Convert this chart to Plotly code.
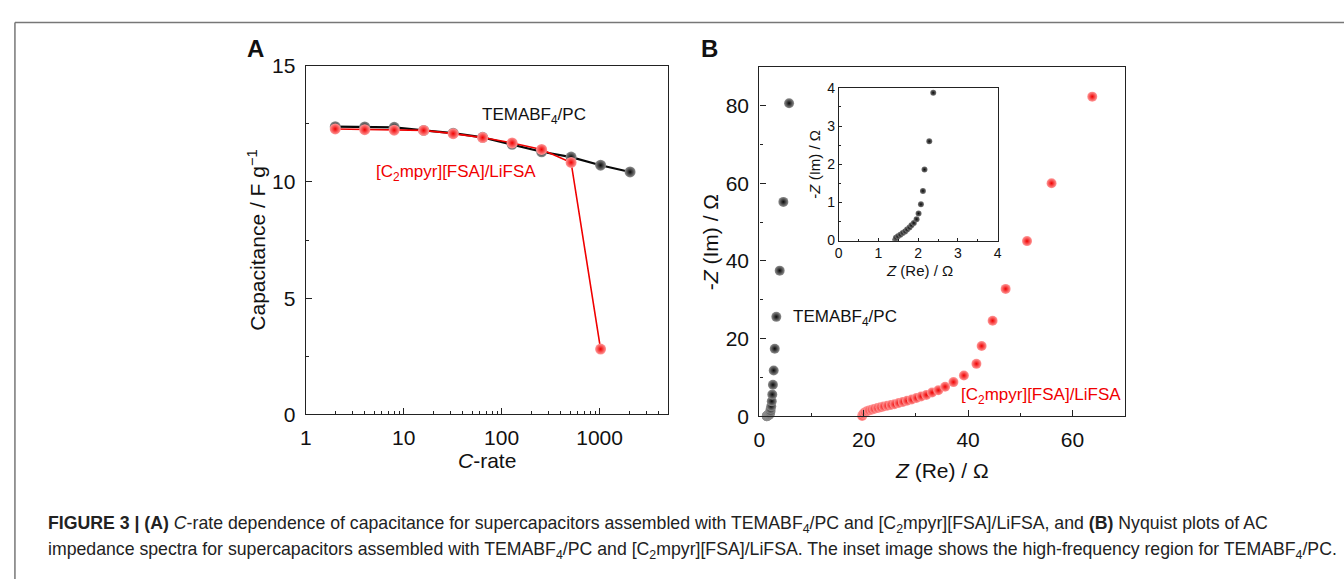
import plotly.graph_objects as go

# ---------------- data ----------------
c_rate = [2, 4, 8, 16, 32, 64, 128, 256, 512, 1024, 2048]
cap_temabf4 = [12.38, 12.37, 12.35, 12.22, 12.10, 11.92, 11.62, 11.30, 11.07, 10.72, 10.43]
c_rate_ionic = [2, 4, 8, 16, 32, 64, 128, 256, 512, 1024]
cap_ionic = [12.28, 12.25, 12.23, 12.22, 12.08, 11.91, 11.68, 11.40, 10.84, 2.81]

zre_temabf4 = [1.42, 1.43, 1.44, 1.49, 1.55, 1.61, 1.67, 1.72, 1.78, 1.83, 1.89, 1.96,
               2.01, 2.07, 2.12, 2.16, 2.28, 2.38, 2.48, 2.60, 2.75, 2.95, 3.25, 3.90, 4.60, 5.70]
zim_temabf4 = [0.00, 0.02, 0.07, 0.11, 0.15, 0.20, 0.24, 0.29, 0.34, 0.40, 0.46, 0.56,
               0.71, 0.95, 1.30, 1.86, 2.60, 3.87, 5.6, 8.1, 11.8, 17.4, 25.6, 37.5, 55.2, 80.6]

zre_ionic = [19.7, 19.9, 20.2, 20.6, 21.0, 21.5, 22.0, 22.6, 23.2, 23.8, 24.5, 25.2, 25.9,
             26.7, 27.5, 28.3, 29.2, 30.1, 31.0, 32.0, 33.1, 34.3, 35.6, 37.2, 39.2, 41.6,
             42.6, 44.7, 47.2, 51.3, 56.0, 63.8]
zim_ionic = [0.1, 0.6, 1.0, 1.3, 1.5, 1.7, 1.9, 2.1, 2.3, 2.5, 2.7, 2.9, 3.1,
             3.4, 3.7, 4.0, 4.3, 4.7, 5.1, 5.5, 6.1, 6.7, 7.6, 8.8, 10.5, 13.5,
             18.1, 24.6, 32.8, 45.1, 60.0, 82.3]

label_temabf4 = "TEMABF<sub>4</sub>/PC"
label_ionic = "[C<sub>2</sub>mpyr][FSA]/LiFSA"

# ---------------- layout helpers ----------------
W, H = 1344, 579
FONT = "Arial, Liberation Sans, sans-serif"
RED = "#f00000"
BLACK = "#080808"


def px(x):
    return x / W


def py(y):
    return 1 - y / H


def sphere(size, base, center):
    return dict(size=size, color=center, gradient=dict(type="radial", color=base),
                line=dict(width=0))


fig = go.Figure()

# Panel A
fig.add_trace(go.Scatter(x=c_rate, y=cap_temabf4, mode="lines+markers", xaxis="x", yaxis="y",
                         line=dict(color=BLACK, width=2.2),
                         marker=sphere(11, BLACK, "#909090"), cliponaxis=False, showlegend=False))
fig.add_trace(go.Scatter(x=c_rate_ionic, y=cap_ionic, mode="lines+markers", xaxis="x", yaxis="y",
                         line=dict(color=RED, width=1.6),
                         marker=sphere(11, RED, "#ff9a9a"), cliponaxis=False, showlegend=False))

# Panel B
fig.add_trace(go.Scatter(x=zre_temabf4, y=zim_temabf4, mode="markers", xaxis="x2", yaxis="y2",
                         marker=sphere(10, BLACK, "#909090"), cliponaxis=False, showlegend=False))
fig.add_trace(go.Scatter(x=zre_ionic, y=zim_ionic, mode="markers", xaxis="x2", yaxis="y2",
                         marker=sphere(10, RED, "#ff9a9a"), cliponaxis=False, showlegend=False))

# Inset
fig.add_trace(go.Scatter(x=zre_temabf4, y=zim_temabf4, mode="markers", xaxis="x3", yaxis="y3",
                         marker=sphere(6, BLACK, "#777777"), cliponaxis=True, showlegend=False))

axis_common = dict(showline=True, linecolor="#222", linewidth=1.3, mirror=True, ticks="inside",
                   tickcolor="#222", tickwidth=1.2, showgrid=False, zeroline=False,
                   tickfont=dict(family=FONT, size=21, color="#111"))

minor_log = [m * 10 ** e for e in range(0, 4) for m in range(2, 10)]

fig.update_layout(
    width=W, height=H, margin=dict(l=0, r=0, t=0, b=0),
    paper_bgcolor="white", plot_bgcolor="white",
    xaxis=dict(domain=[px(302), px(667)], anchor="y", type="log", range=[0, 3.699],
               tickvals=[1, 10, 100, 1000], ticktext=["1", "10", "100", "1000"], ticklen=6,
               ticklabelstandoff=4,
               minor=dict(tickvals=minor_log, ticks="inside", ticklen=3, tickcolor="#222"),
               **axis_common),
    yaxis=dict(domain=[py(419), py(56)], anchor="x", range=[0, 15], dtick=5, ticklen=6,
               ticklabelstandoff=5,
               minor=dict(dtick=2.5, ticks="inside", ticklen=3, tickcolor="#222"),
               **axis_common),
    xaxis2=dict(domain=[px(759), px(1127)], anchor="y2", range=[0, 70], dtick=20, ticklen=6,
                ticklabelstandoff=4,
                minor=dict(dtick=10, ticks="inside", ticklen=3, tickcolor="#222"),
                **axis_common),
    yaxis2=dict(domain=[py(421), py(57)], anchor="x2", range=[0, 90], dtick=20, ticklen=6,
                ticklabelstandoff=5,
                minor=dict(dtick=10, ticks="inside", ticklen=3, tickcolor="#222"),
                **axis_common),
    xaxis3=dict(domain=[px(839), px(999)], anchor="y3", range=[0, 4], dtick=1, ticklen=3,
                showline=True, linecolor="#222", linewidth=1, mirror=True, ticks="inside",
                tickcolor="#222", showgrid=False, zeroline=False,
                minor=dict(dtick=0.5, ticks="inside", ticklen=2, tickcolor="#222"),
                tickfont=dict(family=FONT, size=14, color="#111")),
    yaxis3=dict(domain=[py(238), py(79)], anchor="x3", range=[0, 4], dtick=1, ticklen=3,
                showline=True, linecolor="#222", linewidth=1, mirror=True, ticks="inside",
                tickcolor="#222", showgrid=False, zeroline=False,
                minor=dict(dtick=0.5, ticks="inside", ticklen=2, tickcolor="#222"),
                tickfont=dict(family=FONT, size=14, color="#111")),
)

annots = [
    # panel labels
    dict(x=px(251), y=py(38), text="<b>A</b>", size=24, color="#111"),
    dict(x=px(709), y=py(38), text="<b>B</b>", size=24, color="#111"),
    # axis titles
    dict(x=px(485), y=py(467), text="<i>C</i>-rate", size=21, color="#111"),
    dict(x=px(252), y=py(238), text="Capacitance / F g<sup>\u22121</sup>", size=21, color="#111", angle=-90),
    dict(x=px(943), y=py(477), text="<i>Z</i> (Re) / \u03a9", size=21, color="#111"),
    dict(x=px(710), y=py(240), text="-<i>Z</i> (Im) / \u03a9", size=21, color="#111", angle=-90),
    dict(x=px(920), y=py(269), text="<i>Z</i> (Re) / \u03a9", size=15, color="#111"),
    dict(x=px(815), y=py(158), text="-<i>Z</i> (Im) / \u03a9", size=15, color="#111", angle=-90),
]
for a in annots:
    fig.add_annotation(x=a["x"], y=a["y"], xref="paper", yref="paper", text=a["text"], showarrow=False,
                       xanchor="center", yanchor="middle", textangle=a.get("angle", 0),
                       font=dict(family=FONT, size=a["size"], color=a["color"]))

series_labels = [
    dict(x=px(478), y=py(108), text=label_temabf4, color="#111"),
    dict(x=px(371), y=py(168), text=label_ionic, color=RED),
    dict(x=px(791), y=py(319), text=label_temabf4, color="#111"),
    dict(x=px(960), y=py(400), text=label_ionic, color=RED),
]
for a in series_labels:
    fig.add_annotation(x=a["x"], y=a["y"], xref="paper", yref="paper", text=a["text"], showarrow=False,
                       xanchor="left", yanchor="middle",
                       font=dict(family=FONT, size=17, color=a["color"]))

caption1 = ("<b>FIGURE 3 | (A)</b> <i>C</i>-rate dependence of capacitance for supercapacitors assembled with "
            "TEMABF<sub>4</sub>/PC and [C<sub>2</sub>mpyr][FSA]/LiFSA, and <b>(B)</b> Nyquist plots of AC")
caption2 = ("impedance spectra for supercapacitors assembled with TEMABF<sub>4</sub>/PC and "
            "[C<sub>2</sub>mpyr][FSA]/LiFSA. The inset image shows the high-frequency region for TEMABF<sub>4</sub>/PC.")
fig.add_annotation(x=px(40), y=py(534), xref="paper", yref="paper", text=caption1, showarrow=False,
                   xanchor="left", yanchor="middle", font=dict(family=FONT, size=17.7, color="#222"))
fig.add_annotation(x=px(40), y=py(561), xref="paper", yref="paper", text=caption2, showarrow=False,
                   xanchor="left", yanchor="middle", font=dict(family=FONT, size=17.7, color="#222"))

# outer frame
fig.add_shape(type="line", xref="paper", yref="paper", x0=px(9), x1=1.05, y0=py(11), y1=py(11),
              line=dict(color="#777", width=1.5))
fig.add_shape(type="line", xref="paper", yref="paper", x0=px(9), x1=px(9), y0=py(11), y1=-0.05,
              line=dict(color="#777", width=1.5))

fig.write_html("out.html", config={"displayModeBar": False},
               post_script="document.body.style.margin='0px';document.body.style.overflow='hidden';")
